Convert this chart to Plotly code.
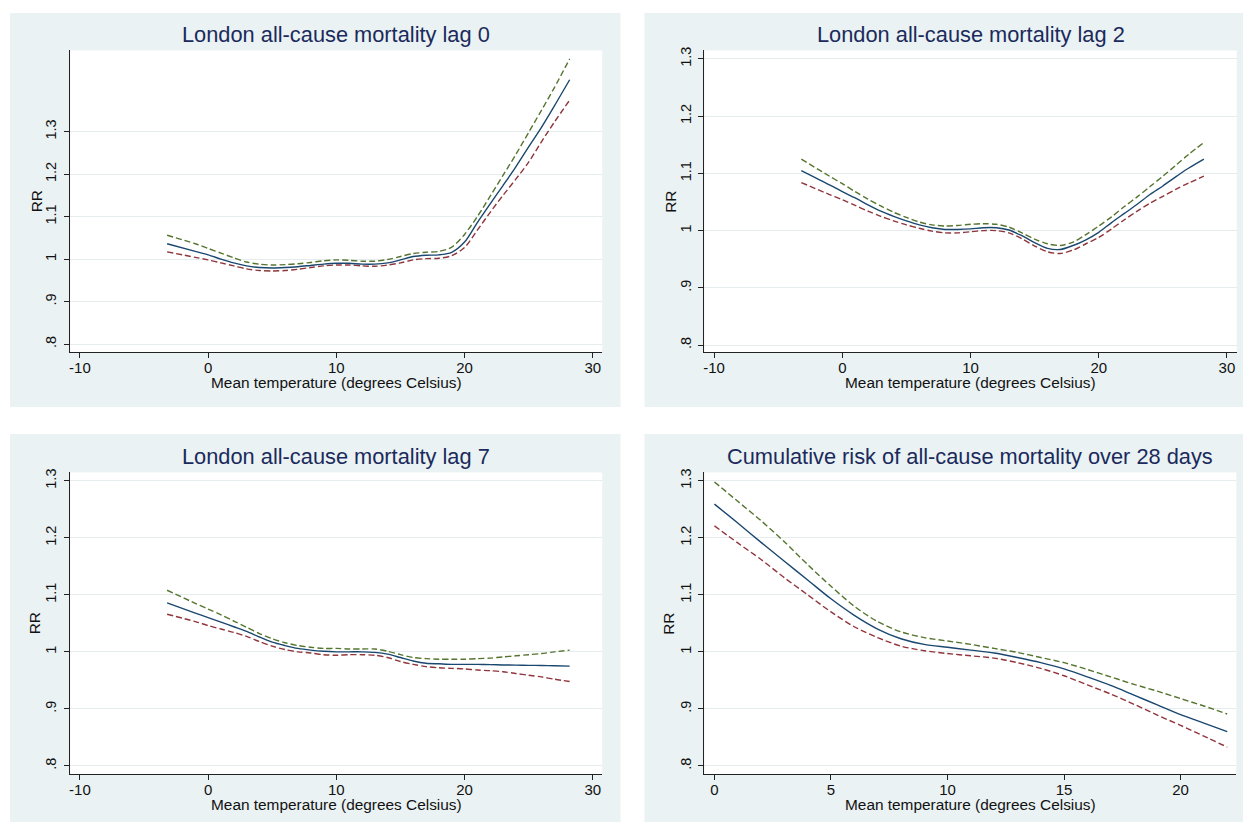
import plotly.graph_objects as go

# ---------------- data ----------------
lag_temps = [-3.2, -1, 0, 1, 2, 3, 4, 5, 6, 7, 8, 9, 10, 11, 12, 13, 14, 15, 16,
             17, 18, 19, 20, 21, 22, 23, 24, 25, 26, 27, 28.2]

lag0_rr = [1.036, 1.018, 1.010, 1.000, 0.991, 0.984, 0.980, 0.979, 0.980, 0.982, 0.985,
           0.988, 0.990, 0.990, 0.988, 0.988, 0.991, 0.998, 1.006, 1.009, 1.010, 1.016,
           1.040, 1.086, 1.130, 1.173, 1.217, 1.264, 1.310, 1.360, 1.422]
lag0_upper = [1.056, 1.036, 1.025, 1.014, 1.003, 0.993, 0.988, 0.986, 0.987, 0.989, 0.992,
              0.996, 0.998, 0.997, 0.995, 0.995, 0.999, 1.006, 1.013, 1.016, 1.018, 1.028,
              1.058, 1.100, 1.148, 1.197, 1.246, 1.298, 1.350, 1.403, 1.471]
lag0_lower = [1.017, 1.004, 0.998, 0.991, 0.984, 0.977, 0.973, 0.972, 0.973, 0.976, 0.980,
              0.984, 0.986, 0.986, 0.984, 0.983, 0.986, 0.991, 0.998, 1.001, 1.002, 1.008,
              1.027, 1.068, 1.110, 1.150, 1.188, 1.228, 1.276, 1.322, 1.374]

lag2_rr = [1.105, 1.080, 1.068, 1.057, 1.045, 1.034, 1.025, 1.017, 1.010, 1.005, 1.002,
           1.002, 1.003, 1.005, 1.005, 1.001, 0.991, 0.979, 0.969, 0.967, 0.974, 0.984,
           0.997, 1.014, 1.030, 1.046, 1.063, 1.078, 1.094, 1.109, 1.125]
lag2_upper = [1.125, 1.095, 1.082, 1.068, 1.055, 1.043, 1.032, 1.023, 1.015, 1.010, 1.008,
              1.009, 1.011, 1.012, 1.011, 1.006, 0.996, 0.985, 0.977, 0.974, 0.980, 0.993,
              1.008, 1.024, 1.042, 1.059, 1.077, 1.095, 1.114, 1.133, 1.154]
lag2_lower = [1.084, 1.063, 1.054, 1.044, 1.034, 1.025, 1.017, 1.010, 1.004, 0.999, 0.996,
              0.996, 0.998, 1.000, 1.000, 0.996, 0.986, 0.973, 0.963, 0.960, 0.966, 0.977,
              0.988, 1.003, 1.019, 1.034, 1.048, 1.060, 1.072, 1.083, 1.095]

lag7_rr = [1.086, 1.068, 1.060, 1.052, 1.044, 1.036, 1.026, 1.017, 1.011, 1.006, 1.003,
           1.001, 1.000, 1.000, 1.000, 0.999, 0.996, 0.990, 0.984, 0.980, 0.979, 0.978,
           0.978, 0.978, 0.9775, 0.977, 0.9767, 0.9763, 0.976, 0.9755, 0.975]
lag7_upper = [1.108, 1.085, 1.075, 1.065, 1.054, 1.043, 1.032, 1.023, 1.016, 1.011, 1.008,
              1.006, 1.006, 1.005, 1.005, 1.005, 1.001, 0.995, 0.990, 0.988, 0.987, 0.987,
              0.987, 0.988, 0.989, 0.991, 0.993, 0.995, 0.997, 1.000, 1.003]
lag7_lower = [1.066, 1.053, 1.046, 1.040, 1.034, 1.027, 1.018, 1.010, 1.004, 1.000, 0.998,
              0.995, 0.994, 0.995, 0.995, 0.994, 0.990, 0.983, 0.978, 0.974, 0.972, 0.971,
              0.970, 0.968, 0.967, 0.965, 0.962, 0.959, 0.956, 0.952, 0.948]

cum_temps = [0, 1, 2, 3, 4, 5, 6, 7, 8, 9, 10, 11, 12, 13, 14, 15, 16, 17, 18, 19, 20, 21, 22]
cum_rr = [1.259, 1.226, 1.192, 1.159, 1.126, 1.093, 1.064, 1.040, 1.023, 1.013, 1.008, 1.003,
          0.998, 0.990, 0.981, 0.970, 0.956, 0.941, 0.924, 0.907, 0.890, 0.875, 0.860]
cum_upper = [1.298, 1.264, 1.230, 1.193, 1.153, 1.115, 1.080, 1.053, 1.035, 1.025, 1.019, 1.013,
             1.006, 0.999, 0.990, 0.981, 0.969, 0.956, 0.943, 0.931, 0.918, 0.905, 0.891]
cum_lower = [1.221, 1.191, 1.162, 1.130, 1.100, 1.070, 1.044, 1.025, 1.010, 1.002, 0.997, 0.993,
             0.989, 0.981, 0.971, 0.958, 0.942, 0.926, 0.908, 0.889, 0.871, 0.852, 0.833]

titles = ["London all-cause mortality lag 0", "London all-cause mortality lag 2",
          "London all-cause mortality lag 7", "Cumulative risk of all-cause mortality over 28 days"]
x_title = "Mean temperature (degrees Celsius)"
y_title = "RR"
y_tickvals = [0.8, 0.9, 1.0, 1.1, 1.2, 1.3]
y_ticktext = [".8", ".9", "1", "1.1", "1.2", "1.3"]
lag_xticks = [-10, 0, 10, 20, 30]
cum_xticks = [0, 5, 10, 15, 20]

# ---------------- layout geometry (pixels) ----------------
W, H = 1243, 822
FONT = "Liberation Sans, Arial, sans-serif"
NAVY, GREEN, RED = "#1A476F", "#55752F", "#90353B"
PANEL_BG = "#EAF2F3"
GRID = "#E4ECEE"
TITLE_COL = "#1B2A5C"

panels = [
    dict(bg=(9, 9, 620, 405), plot=(69.3, 46.7, 601.7, 350),
         x=lag_temps, rr=lag0_rr, up=lag0_upper, lo=lag0_lower,
         xr=(-10.756, 30.74), yr=(0.7806, 1.4909), xt=lag_xticks,
         title_y=31, xlab_y=380, rr_x=35),
    dict(bg=(644, 9, 1243, 405), plot=(704, 46.7, 1236.7, 350),
         x=lag_temps, rr=lag2_rr, up=lag2_upper, lo=lag2_lower,
         xr=(-10.756, 30.76), yr=(0.7873, 1.3148), xt=lag_xticks,
         title_y=31, xlab_y=380, rr_x=670),
    dict(bg=(9, 432, 620, 822), plot=(69.3, 470.7, 601.7, 774),
         x=lag_temps, rr=lag7_rr, up=lag7_upper, lo=lag7_lower,
         xr=(-10.756, 30.74), yr=(0.7853, 1.3147), xt=lag_xticks,
         title_y=454.5, xlab_y=804, rr_x=33),
    dict(bg=(644, 432, 1243, 822), plot=(704, 470.7, 1236.3, 774),
         x=cum_temps, rr=cum_rr, up=cum_upper, lo=cum_lower,
         xr=(-0.429, 22.39), yr=(0.7853, 1.3147), xt=cum_xticks,
         title_y=454.5, xlab_y=804, rr_x=668),
]


def px(x):
    return x / W


def py(y):
    return 1 - y / H


fig = go.Figure()
shapes = []
annotations = []
layout_axes = {}

for i, p in enumerate(panels):
    n = "" if i == 0 else str(i + 1)
    xa, ya = "x" + n, "y" + n
    bx0, by0, bx1, by1 = p["bg"]
    x0, y0, x1, y1 = p["plot"]
    shapes.append(dict(type="rect", xref="paper", yref="paper", layer="below",
                       x0=px(bx0), x1=px(bx1), y0=py(by1), y1=py(by0),
                       fillcolor=PANEL_BG, line=dict(width=0)))
    shapes.append(dict(type="rect", xref="paper", yref="paper", layer="below",
                       x0=px(x0), x1=px(x1), y0=py(y1), y1=py(y0),
                       fillcolor="white", line=dict(width=0)))

    for ys, col, dash in [(p["up"], GREEN, "6px,3px"), (p["lo"], RED, "6px,3px"),
                          (p["rr"], NAVY, "solid")]:
        fig.add_trace(go.Scatter(x=p["x"], y=ys, xaxis=xa, yaxis=ya, mode="lines",
                                 line=dict(color=col, width=1.4, dash=dash,
                                           shape="spline", smoothing=0.8),
                                 showlegend=False, hoverinfo="skip"))

    layout_axes["xaxis" + n] = dict(
        domain=[px(x0), px(x1)], anchor=ya, range=list(p["xr"]),
        tickvals=p["xt"], ticktext=[str(v) for v in p["xt"]],
        showline=True, linecolor="#222222", linewidth=1.2,
        ticks="outside", ticklen=5, tickwidth=1.2, tickcolor="#222222",
        showgrid=False, zeroline=False, ticklabelstandoff=-3,
        tickfont=dict(family=FONT, size=15, color="#111111"))
    layout_axes["yaxis" + n] = dict(
        domain=[py(y1), py(y0)], anchor=xa, range=list(p["yr"]),
        tickvals=y_tickvals, ticktext=y_ticktext,
        tickangle=-90, showline=True, linecolor="#222222", linewidth=1.2,
        ticks="outside", ticklen=5, tickwidth=1.2, tickcolor="#222222",
        showgrid=True, gridcolor=GRID, gridwidth=1.2, zeroline=False,
        ticklabelstandoff=2,
        tickfont=dict(family=FONT, size=14.5, color="#111111"))

    annotations.append(dict(xref="paper", yref="paper", x=px((x0 + x1) / 2), y=py(p["title_y"]),
                            text=titles[i], showarrow=False, xanchor="center", yanchor="middle",
                            font=dict(family=FONT, size=21.8, color=TITLE_COL)))
    annotations.append(dict(xref="paper", yref="paper", x=px((x0 + x1) / 2), y=py(p["xlab_y"]),
                            text=x_title, showarrow=False, xanchor="center", yanchor="middle",
                            font=dict(family=FONT, size=15.4, color="#111111")))
    annotations.append(dict(xref="paper", yref="paper", x=px(p["rr_x"]), y=py((y0 + y1) / 2),
                            text=y_title, showarrow=False, xanchor="center", yanchor="middle",
                            textangle=-90,
                            font=dict(family=FONT, size=15.4, color="#111111")))

fig.update_layout(width=W, height=H, margin=dict(l=0, r=0, t=0, b=0),
                  paper_bgcolor="white", plot_bgcolor="white",
                  shapes=shapes, annotations=annotations, showlegend=False,
                  **layout_axes)

fig.write_html("out.html", config={"displayModeBar": False},
               post_script="document.body.style.margin='0';"
               "document.body.style.overflow='hidden';")
